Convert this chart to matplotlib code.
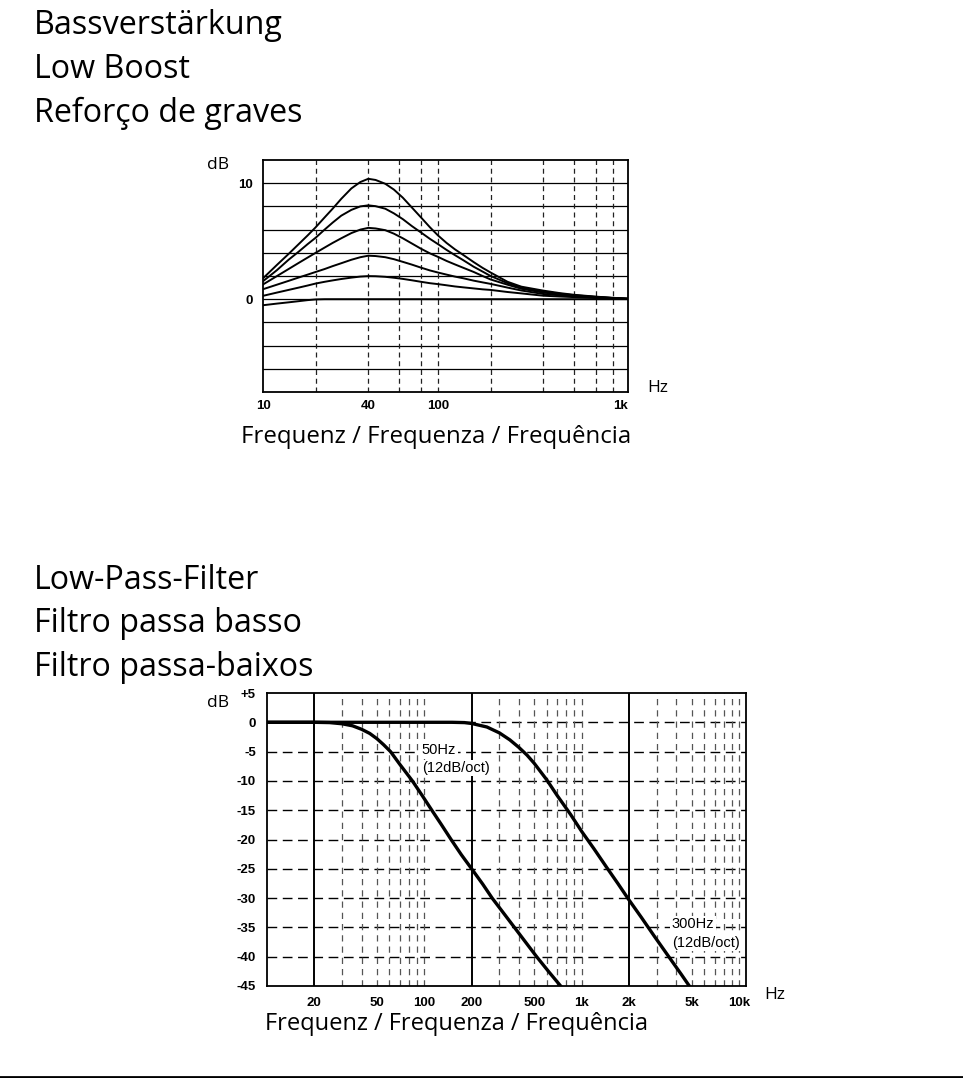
import matplotlib
matplotlib.use("Agg")
import matplotlib.pyplot as plt
from matplotlib.ticker import NullLocator
from matplotlib.lines import Line2D

W, H = 963, 1078

# ---------------- data: Low Boost ----------------
boost_freq = [10, 12, 14, 16, 18, 20, 22.5, 25, 28, 32, 36, 40, 44, 50, 56, 63, 71, 80,
              90, 100, 112, 125, 140, 160, 180, 200, 250, 300, 400, 500, 600, 800,
              1000, 1220]
boost_a = [1.8, 2.95, 3.9, 4.75, 5.5, 6.2, 7.05, 7.8, 8.65, 9.55, 10.1, 10.38, 10.28,
           9.95, 9.45, 8.75, 7.9, 7.05, 6.2, 5.5, 4.85, 4.3, 3.8, 3.2, 2.7, 2.3, 1.5,
           1.08, 0.74, 0.52, 0.38, 0.22, 0.12, 0.05]
boost_b = [1.55, 2.5, 3.4, 4.1, 4.75, 5.3, 6.0, 6.6, 7.2, 7.7, 8.0, 8.09, 8.02, 7.8,
           7.4, 6.9, 6.3, 5.75, 5.2, 4.75, 4.25, 3.8, 3.35, 2.8, 2.38, 2.0, 1.38,
           1.0, 0.65, 0.47, 0.34, 0.2, 0.1, 0.04]
boost_c = [1.27, 1.99, 2.6, 3.13, 3.59, 4.0, 4.45, 4.85, 5.25, 5.7, 6.0, 6.15, 6.1,
           5.95, 5.65, 5.25, 4.8, 4.35, 3.95, 3.65, 3.3, 3.0, 2.7, 2.35, 2.0, 1.7,
           1.25, 0.9, 0.57, 0.42, 0.3, 0.18, 0.1, 0.04]
boost_d = [0.86, 1.25, 1.58, 1.87, 2.12, 2.35, 2.6, 2.85, 3.1, 3.4, 3.62, 3.75, 3.72,
           3.62, 3.45, 3.22, 2.98, 2.72, 2.48, 2.3, 2.12, 1.95, 1.8, 1.6, 1.45, 1.32,
           1.0, 0.75, 0.45, 0.33, 0.25, 0.15, 0.08, 0.03]
boost_e = [0.29, 0.57, 0.8, 1.0, 1.18, 1.35, 1.5, 1.62, 1.74, 1.86, 1.95, 1.99, 1.98,
           1.93, 1.85, 1.75, 1.63, 1.5, 1.38, 1.3, 1.2, 1.1, 1.02, 0.93, 0.85, 0.8,
           0.62, 0.5, 0.3, 0.23, 0.18, 0.1, 0.06, 0.02]
boost_f = [-0.52, -0.38, -0.27, -0.17, -0.08, -0.02, 0, 0, 0, 0, 0, 0, 0, 0, 0, 0, 0,
           0, 0, 0, 0, 0, 0, 0, 0, 0, 0, 0, 0, 0, 0, 0, 0, 0]
boost_curves = [boost_a, boost_b, boost_c, boost_d, boost_e, boost_f]

boost_xticks = [10, 40, 100, 1000]
boost_xlabels = ["10", "40", "100", "1k"]
boost_yticks = [0, 10]
boost_ylabels = ["0", "10"]
boost_vgrid = [20, 40, 60, 80, 100, 200, 400, 600, 800, 1000]
boost_hgrid = [-6, -4, -2, 0, 2, 4, 6, 8, 10]

# ---------------- data: Low-Pass ----------------
lp50_freq = [10, 20, 25, 30, 35, 40, 45, 50, 55, 61, 70, 84, 97, 111, 128, 148, 172,
             200, 235, 270, 320, 374, 440, 518, 620, 736]
lp50_db = [0, 0, -0.05, -0.25, -0.6, -1.2, -1.9, -2.8, -3.8, -5, -7.2, -10, -12.5,
           -14.9, -17.4, -20, -22.6, -25, -27.6, -30, -32.6, -35, -37.5, -40, -42.6,
           -45]
lp300_freq = [10, 150, 180, 200, 250, 300, 350, 400, 450, 500, 600, 700, 850, 1000,
              1200, 1447, 1700, 2000, 2400, 2900, 3650, 4300, 4900]
lp300_db = [0, 0, -0.05, -0.2, -0.8, -1.8, -3.0, -4.3, -5.6, -7.0, -9.8, -12.5, -15.7,
            -18.6, -21.6, -24.8, -27.5, -30.3, -33.3, -36.5, -40.3, -43.0, -45.2]

lp_xticks = [20, 50, 100, 200, 500, 1000, 2000, 5000, 10000]
lp_xlabels = ["20", "50", "100", "200", "500", "1k", "2k", "5k", "10k"]
lp_yticks = [5, 0, -5, -10, -15, -20, -25, -30, -35, -40, -45]
lp_ylabels = ["+5", "0", "-5", "-10", "-15", "-20", "-25", "-30", "-35", "-40", "-45"]
lp_solid = [20, 200, 2000]
lp_dashed = [30, 40, 50, 60, 70, 80, 90, 100, 300, 400, 500, 600, 700, 800, 900, 1000,
             3000, 4000, 5000, 6000, 7000, 8000, 9000, 10000]
lp_hgrid = [0, -5, -10, -15, -20, -25, -30, -35, -40]

TITLE_FONT = ["Open Sans", "DejaVu Sans"]
TICK_FONT = ["Liberation Sans", "DejaVu Sans"]
NARROW_FONT = ["Liberation Sans Narrow", "Liberation Sans", "DejaVu Sans"]

fig = plt.figure(figsize=(W / 100, H / 100), dpi=100)
fig.patch.set_facecolor("white")


def fx(x):
    return x / W


def fy(y):
    return 1 - y / H


def axes_px(left, top, right, bottom):
    return fig.add_axes([fx(left), fy(bottom), (right - left) / W, (bottom - top) / H])


def style_ticks(ax, xt, xl, yt, yl, pad_x, pad_y):
    ax.set_xticks(xt)
    ax.set_xticklabels(xl)
    ax.xaxis.set_minor_locator(NullLocator())
    ax.set_yticks(yt)
    ax.set_yticklabels(yl)
    ax.tick_params(axis="x", length=0, pad=pad_x)
    ax.tick_params(axis="y", length=0, pad=pad_y)
    for lab in ax.get_xticklabels() + ax.get_yticklabels():
        lab.set_fontfamily(TICK_FONT)
        lab.set_fontweight("bold")
        lab.set_fontsize(9.5)
    for s in ax.spines.values():
        s.set_linewidth(1.3)
        s.set_color("black")


# ---------------- titles ----------------
for i, t in enumerate(["Bassverstärkung", "Low Boost", "Reforço de graves"]):
    fig.text(fx(34), fy(34.5 + i * 43.5), t, fontsize=23.2, family=TITLE_FONT,
             va="baseline", ha="left")
for i, t in enumerate(["Low-Pass-Filter", "Filtro passa basso", "Filtro passa-baixos"]):
    fig.text(fx(34), fy(589 + i * 43.5), t, fontsize=23.2, family=TITLE_FONT,
             va="baseline", ha="left")

# ---------------- top chart ----------------
ax1 = axes_px(263, 160, 628, 392)
ax1.set_xscale("log")
ax1.set_xlim(10, 1220)
ax1.set_ylim(-8, 12)
for y in boost_hgrid:
    ax1.axhline(y, color="black", lw=0.9, zorder=1)
for f in boost_vgrid:
    ax1.axvline(f, color="#222222", lw=0.9, dashes=(4, 3), zorder=1)
for c in boost_curves:
    ax1.plot(boost_freq, c, color="black", lw=1.4, zorder=3, solid_joinstyle="round")
style_ticks(ax1, boost_xticks, boost_xlabels, boost_yticks, boost_ylabels, 6, 7)
ax1.get_xticklabels()[-1].set_horizontalalignment("left")

fig.text(fx(218), fy(165), "dB", fontsize=12.5, family=TITLE_FONT, ha="center", va="center")
fig.text(fx(658), fy(388), "Hz", fontsize=12.5, family=TITLE_FONT, ha="center", va="center")
fig.text(fx(436), fy(437), "Frequenz / Frequenza / Frequência", fontsize=17.3,
         family=TITLE_FONT, ha="center", va="center")

# ---------------- bottom chart ----------------
ax2 = axes_px(267, 693, 746, 986)
ax2.set_xscale("log")
ax2.set_xlim(10, 11100)
ax2.set_ylim(-45, 5)
for y in lp_hgrid:
    ax2.axhline(y, color="black", lw=1.0, dashes=(7, 4), zorder=1)
for f in lp_dashed:
    ax2.axvline(f, color="#555555", lw=0.9, dashes=(5, 4), zorder=1)
for f in lp_solid:
    ax2.axvline(f, color="black", lw=1.4, zorder=1)
ax2.plot(lp50_freq, lp50_db, color="black", lw=2.4, zorder=3, solid_joinstyle="round")
ax2.plot(lp300_freq, lp300_db, color="black", lw=2.4, zorder=3, solid_joinstyle="round")
style_ticks(ax2, lp_xticks, lp_xlabels, lp_yticks, lp_ylabels, 8, 8)

bbox = dict(facecolor="white", edgecolor="none", pad=1.0)
ax2.text(0.323, 0.805, "50Hz", transform=ax2.transAxes, fontsize=10.5,
         family=NARROW_FONT, ha="left", va="center", bbox=bbox, zorder=4)
ax2.text(0.323, 0.744, "(12dB/oct)", transform=ax2.transAxes, fontsize=10.5,
         family=NARROW_FONT, ha="left", va="center", bbox=bbox, zorder=4)
ax2.text(0.845, 0.21, "300Hz", transform=ax2.transAxes, fontsize=10.5,
         family=NARROW_FONT, ha="left", va="center", bbox=bbox, zorder=4)
ax2.text(0.845, 0.148, "(12dB/oct)", transform=ax2.transAxes, fontsize=10.5,
         family=NARROW_FONT, ha="left", va="center", bbox=bbox, zorder=4)

fig.text(fx(218), fy(703), "dB", fontsize=12.5, family=TITLE_FONT, ha="center", va="center")
fig.text(fx(775), fy(995), "Hz", fontsize=12.5, family=TITLE_FONT, ha="center", va="center")
fig.text(fx(456), fy(1024), "Frequenz / Frequenza / Frequência", fontsize=17,
         family=TITLE_FONT, ha="center", va="center")

# bottom rule
fig.add_artist(Line2D([0, 1], [fy(1076.5), fy(1076.5)], transform=fig.transFigure,
                      color="black", lw=2.0))

fig.savefig("out.png", dpi=100, facecolor="white")
